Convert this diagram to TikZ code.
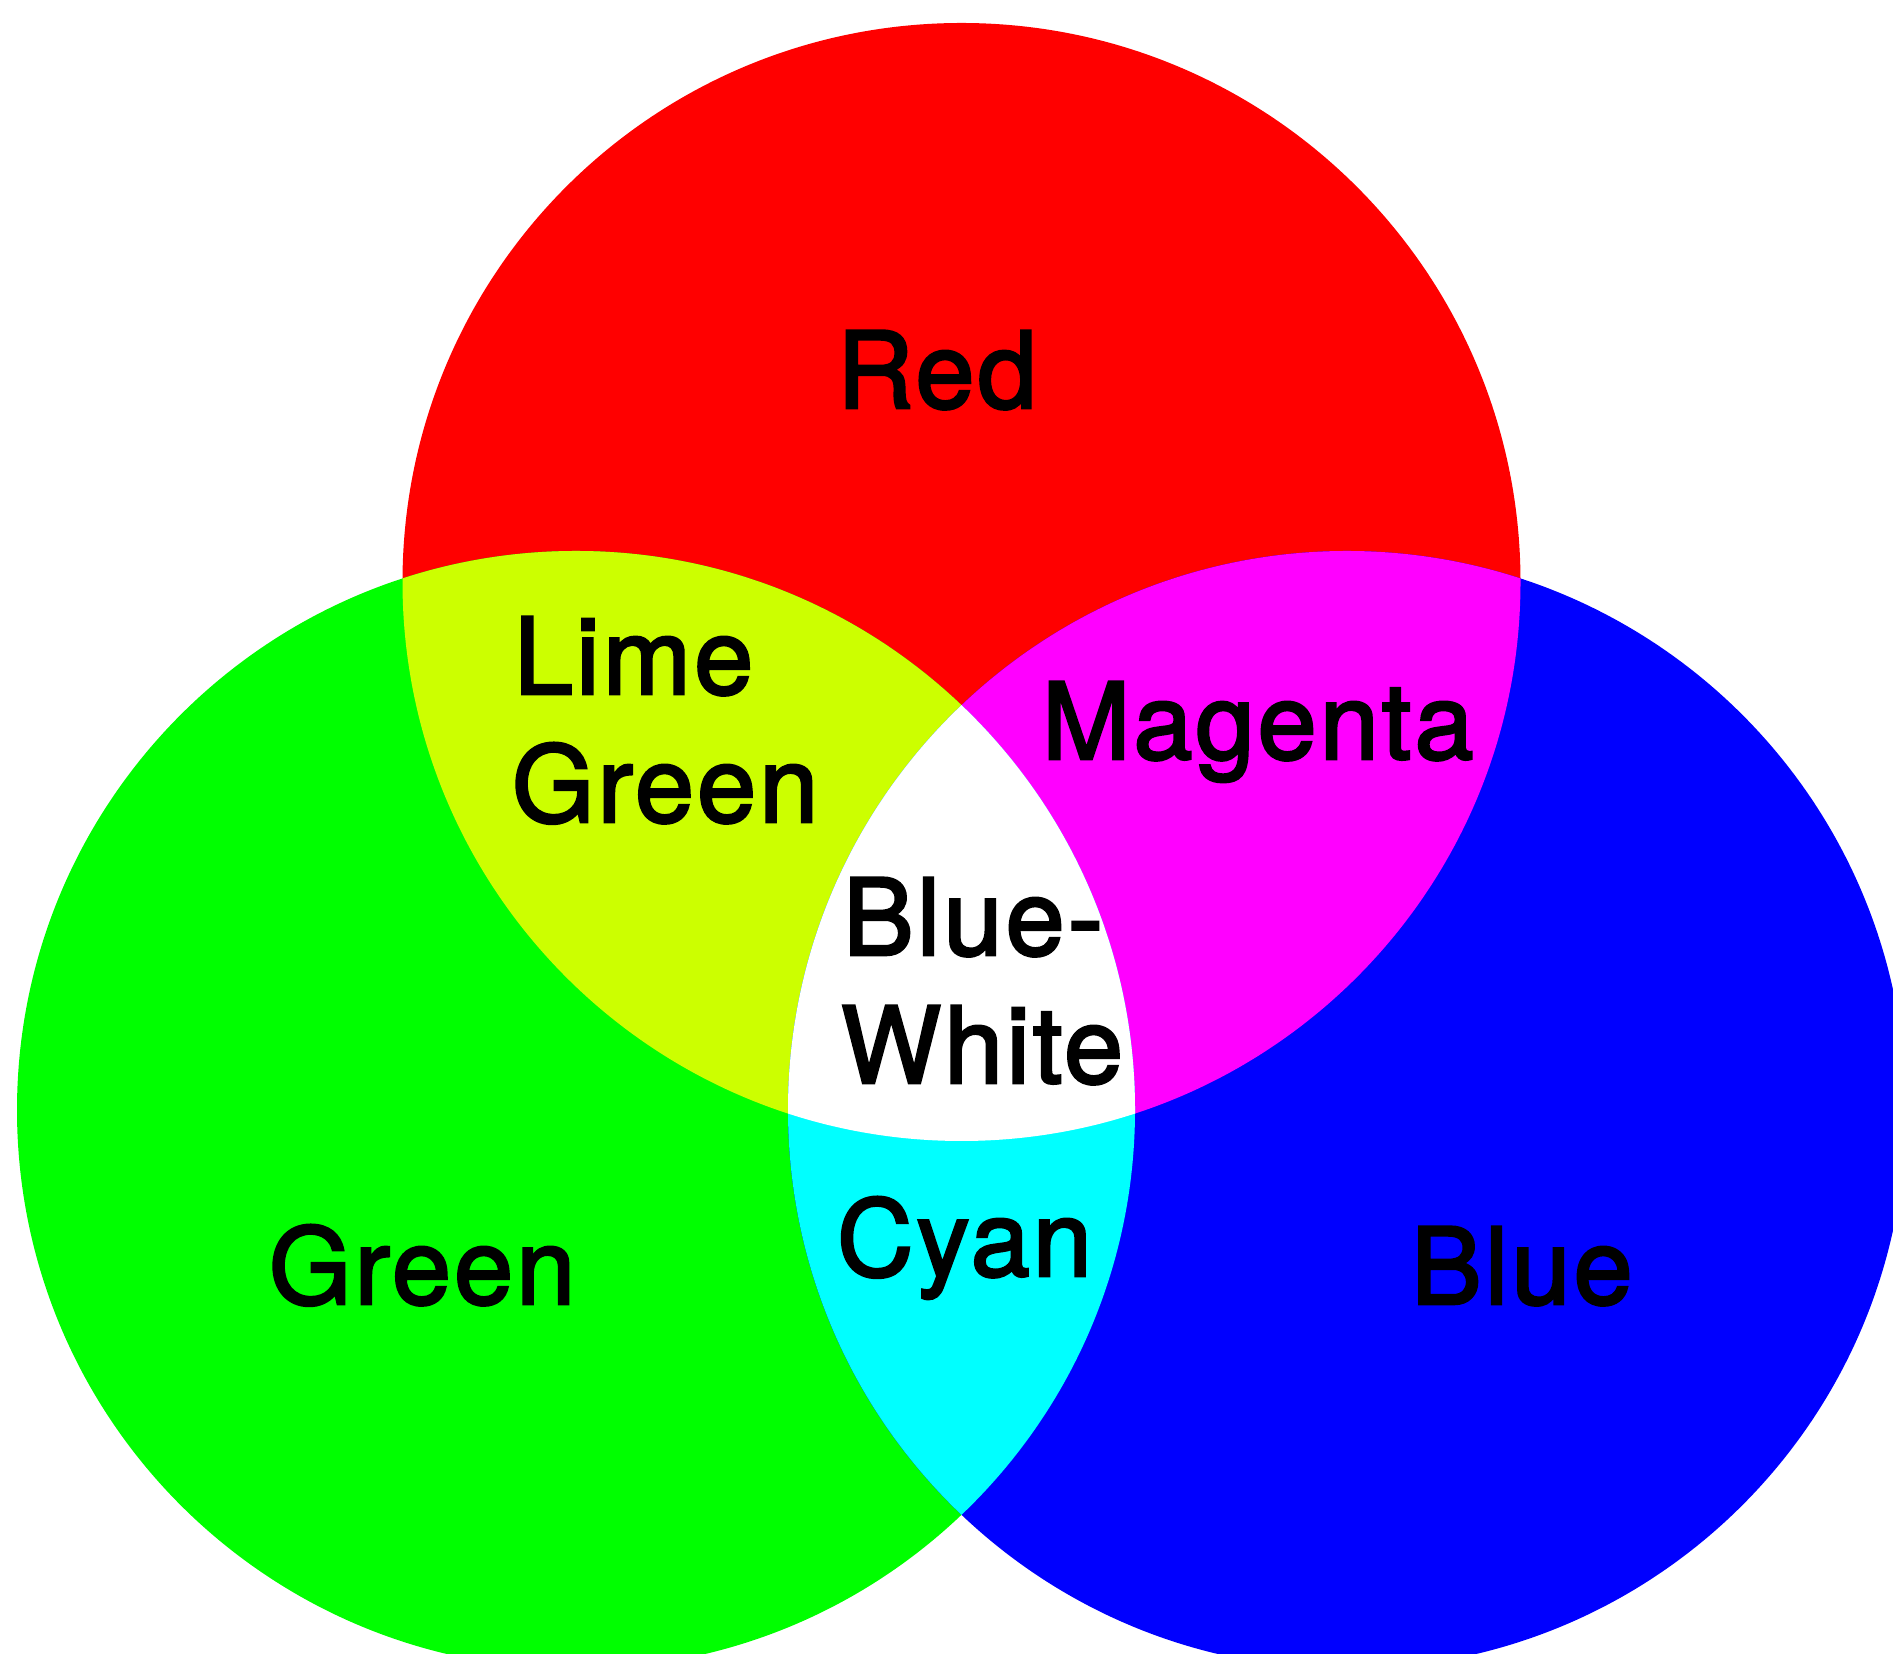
\documentclass[tikz,border=0pt]{standalone}
\usepackage{fontspec}
\setmainfont{TeX Gyre Heros}
\newfontfamily\lblfont[RawFeature={embolden=2.5},LetterSpace=3]{TeX Gyre Heros}
\definecolor{cRed}{HTML}{FF0000}
\definecolor{cGreen}{HTML}{00FF00}
\definecolor{cBlue}{HTML}{0000FF}
\definecolor{cLime}{HTML}{CCFF00}
\definecolor{cMag}{HTML}{FF00FF}
\definecolor{cCyan}{HTML}{00FFFF}
\tikzset{
  lbl/.style={anchor=base west, inner sep=0pt, outer sep=0pt, align=left,
    font=\lblfont\fontsize{106}{128}\selectfont, text=black}
}
\begin{document}
\begin{tikzpicture}[x=1pt,y=1pt]
\useasboundingbox (0,0) rectangle (1893,1654);
\fill[white] (0,0) rectangle (1893,1654);
\def\rr{559}
\coordinate (R) at (961.5,1072);
\coordinate (G) at (576,544);
\coordinate (B) at (1347,544);
\fill[cRed] (R) circle (\rr);
\fill[cGreen] (G) circle (\rr);
\fill[cBlue] (B) circle (\rr);
\begin{scope}
  \clip (R) circle (\rr);
  \fill[cLime] (G) circle (\rr);
  \fill[cMag] (B) circle (\rr);
\end{scope}
\begin{scope}
  \clip (G) circle (\rr);
  \fill[cCyan] (B) circle (\rr);
  \clip (R) circle (\rr);
  \fill[white] (B) circle (\rr);
\end{scope}
\node[lbl] (tred) at (837,1246) {Red};
\node[lbl] (tlime) at (514,960) {Lime};
\node[lbl] (tlime2) at (512,832) {Green};
\node[lbl] (tmag) at (1042,895) {Magenta};
\node[lbl] (tbw) at (843,699) {Blue-};
\node[lbl] (tbw2) at (841,571) {White};
\node[lbl] (tgreen) at (269,350) {Green};
\node[lbl] (tcyan) at (837,378) {Cyan};
\node[lbl] (tblue) at (1411,350) {Blue};
\end{tikzpicture}
\end{document}
